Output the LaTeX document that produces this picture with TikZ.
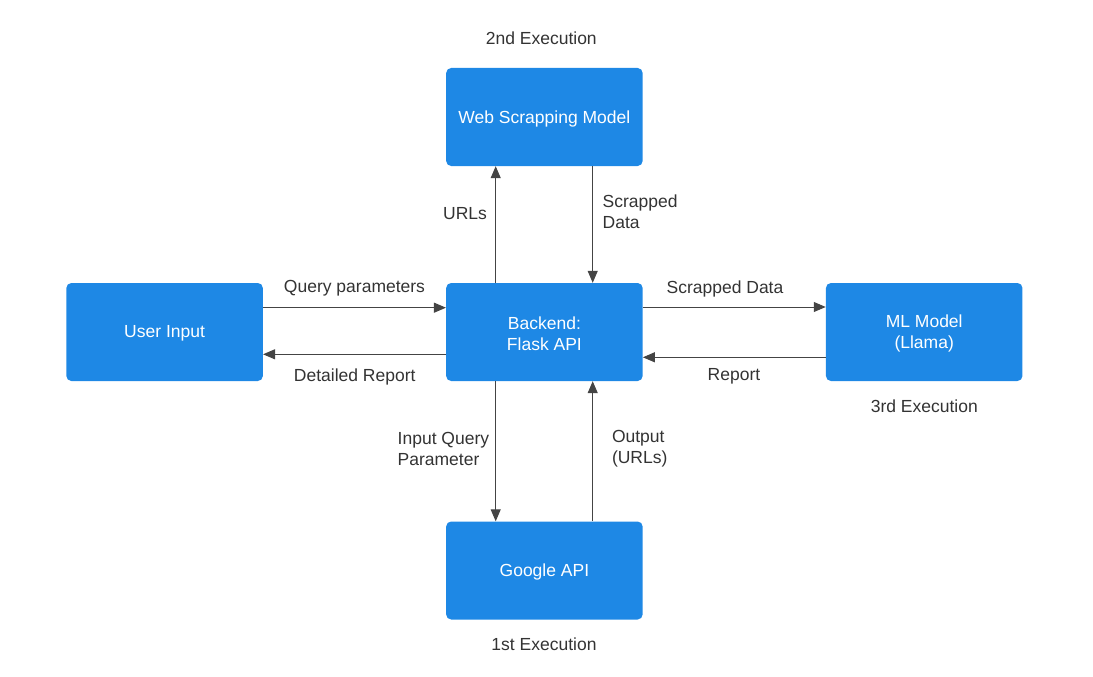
\documentclass[tikz,border=0pt]{standalone}
\usepackage{fontspec}
\setmainfont{Liberation Sans}
\usetikzlibrary{arrows.meta}
\definecolor{boxblue}{HTML}{1E88E5}
\definecolor{linegray}{HTML}{444444}
\definecolor{txtgray}{HTML}{333333}
\begin{document}
\begin{tikzpicture}[x=1pt,y=-1pt,
  box/.style={draw=none,fill=boxblue,rounded corners=5pt,minimum width=196.5pt,minimum height=98pt},
  boxtxt/.style={inner sep=0pt,text=white,align=center,font=\fontsize{17.5}{21}\selectfont},
  lbl/.style={inner sep=0pt,text=txtgray,font=\fontsize{17.5}{21}\selectfont},
  arr/.style={draw=linegray,line width=1pt,-{Triangle[length=12pt,width=10pt]}}]
\useasboundingbox (0,0) rectangle (1093,677);
\node[box] (web) at (544.4,117) {};
\node[box] (user) at (164.6,332) {};
\node[box] (back) at (544.4,332) {};
\node[box] (ml) at (924.2,332) {};
\node[box] (goo) at (544.4,570.5) {};
\node[boxtxt] (webtxt) at (544.4,118.5) {Web Scrapping Model};
\node[boxtxt] (usertxt) at (164.6,333.5) {User Input};
\node[boxtxt] (backtxt) at (544.4,333.5) {Backend:\\Flask API};
\node[boxtxt] (mltxt) at (924.2,333.5) {ML Model\\(Llama)};
\node[boxtxt] (gootxt) at (544.4,572) {Google API};
% arrows
\draw[arr] ([xshift=-48.7pt]back.north) -- ([xshift=-48.7pt]web.south);
\draw[arr] ([xshift=48.3pt]web.south) -- ([xshift=48.3pt]back.north);
\draw[arr] ([yshift=24.3pt]user.east) -- ([yshift=24.3pt]back.west);
\draw[arr] ([yshift=-22.3pt]back.west) -- ([yshift=-22.3pt]user.east);
\draw[arr] ([yshift=25pt]back.east) -- ([yshift=25pt]ml.west);
\draw[arr] ([yshift=-25.3pt]ml.west) -- ([yshift=-25.3pt]back.east);
\draw[arr] ([xshift=-48.7pt]back.south) -- ([xshift=-48.7pt]goo.north);
\draw[arr] ([xshift=48.3pt]goo.north) -- ([xshift=48.3pt]back.south);
% labels
\node[lbl] (l1) at (465,214) {URLs};
\node[lbl,anchor=west,align=left] (l2) at (602.5,211.5) {Scrapped\\Data};
\node[lbl] (l3) at (354.5,288.5) {Query parameters};
\node[lbl] (l4) at (354.7,376.5) {Detailed Report};
\node[lbl] (l5) at (725,288.5) {Scrapped Data};
\node[lbl] (l6) at (734,376.5) {Report};
\node[lbl,anchor=west,align=left] (l7) at (397.5,448.5) {Input Query\\Parameter};
\node[lbl,anchor=west,align=left] (l8) at (611.8,448.5) {Output\\(URLs)};
\node[lbl] (e2) at (541.3,38) {2nd Execution};
\node[lbl] (e3) at (924.3,406.5) {3rd Execution};
\node[lbl] (e1) at (544,644.5) {1st Execution};
\end{tikzpicture}
\end{document}
